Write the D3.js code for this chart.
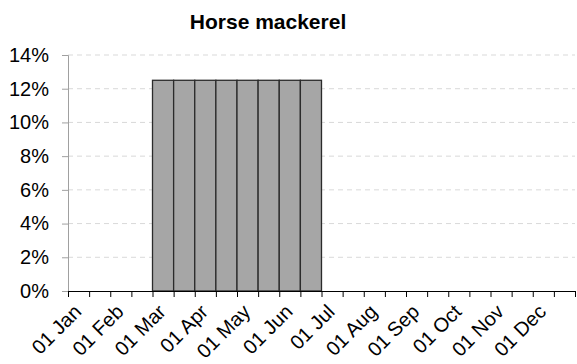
<!DOCTYPE html>
<html>
<head>
<meta charset="utf-8">
<script src="https://cdn.jsdelivr.net/npm/d3@7"></script>
<style>
  html, body { margin: 0; padding: 0; background: #fff; }
  svg { display: block; font-family: "Liberation Sans", Arial, sans-serif; }
</style>
</head>
<body>
<svg id="chart" width="577" height="364"></svg>
<script>
// Half-month bins through the year (24 bins), share of catch in each
const title = "Horse mackerel";
const monthLabels = ["01 Jan", "01 Feb", "01 Mar", "01 Apr", "01 May", "01 Jun",
                     "01 Jul", "01 Aug", "01 Sep", "01 Oct", "01 Nov", "01 Dec"];
const binShare = [0, 0, 0, 0, 12.5, 12.5, 12.5, 12.5, 12.5, 12.5, 12.5, 12.5,
                  0, 0, 0, 0, 0, 0, 0, 0, 0, 0, 0, 0];
const yTicks = [0, 2, 4, 6, 8, 10, 12, 14];

const svg = d3.select("#chart");
const margin = { left: 68, right: 2, top: 55, bottom: 73 };
const W = 577, H = 364;

const x = d3.scaleLinear().domain([0, binShare.length]).range([margin.left, W - margin.right]);
const y = d3.scaleLinear().domain([0, 14]).range([H - margin.bottom, margin.top]);

// Title
svg.append("text")
  .attr("x", 268).attr("y", 29)
  .attr("text-anchor", "middle")
  .attr("font-size", 21).attr("font-weight", "bold")
  .attr("fill", "#000")
  .text(title);

// Dashed gridlines
svg.append("g").selectAll("line")
  .data(yTicks.filter(d => d > 0))
  .join("line")
  .attr("x1", x(0)).attr("x2", x(binShare.length))
  .attr("y1", d => y(d)).attr("y2", d => y(d))
  .attr("stroke", "#d9d9d9").attr("stroke-width", 1)
  .attr("stroke-dasharray", "5,4");

// Y axis
const yAxis = d3.axisLeft(y).tickValues(yTicks).tickFormat(d => d + "%").tickSize(6).tickPadding(13);
const gy = svg.append("g").attr("transform", `translate(${x(0)},0)`).call(yAxis);
gy.select(".domain").attr("stroke", "#a0a0a0");
gy.selectAll(".tick line").attr("stroke", "#a0a0a0");
gy.selectAll(".tick text").attr("font-size", 20).attr("fill", "#000")
  .attr("font-family", "Liberation Sans, Arial, sans-serif");

// Bars
svg.append("g").selectAll("rect")
  .data(binShare.map((v, i) => ({ i, v })).filter(d => d.v > 0))
  .join("rect")
  .attr("x", d => x(d.i))
  .attr("width", d => x(d.i + 1) - x(d.i))
  .attr("y", d => y(d.v))
  .attr("height", d => y(0) - y(d.v))
  .attr("fill", "#a6a6a6")
  .attr("stroke", "#2b2b2b").attr("stroke-width", 1.3);

// X axis: a tick at every half-month bin edge, labels on month starts
const xAxis = d3.axisBottom(x)
  .tickValues(d3.range(0, binShare.length + 1))
  .tickFormat(d => (d % 2 === 0 && d < binShare.length) ? monthLabels[d / 2] : "")
  .tickSize(6);
const gx = svg.append("g").attr("transform", `translate(0,${y(0)})`).call(xAxis);
gx.select(".domain").attr("stroke", "#000");
gx.selectAll(".tick line").attr("stroke", "#000");
gx.selectAll(".tick text")
  .attr("font-size", 20).attr("fill", "#000")
  .attr("font-family", "Liberation Sans, Arial, sans-serif")
  .attr("text-anchor", "end")
  .attr("y", 0).attr("dy", "0")
  .attr("transform", "translate(14,22) rotate(-45)");
</script>
</body>
</html>
